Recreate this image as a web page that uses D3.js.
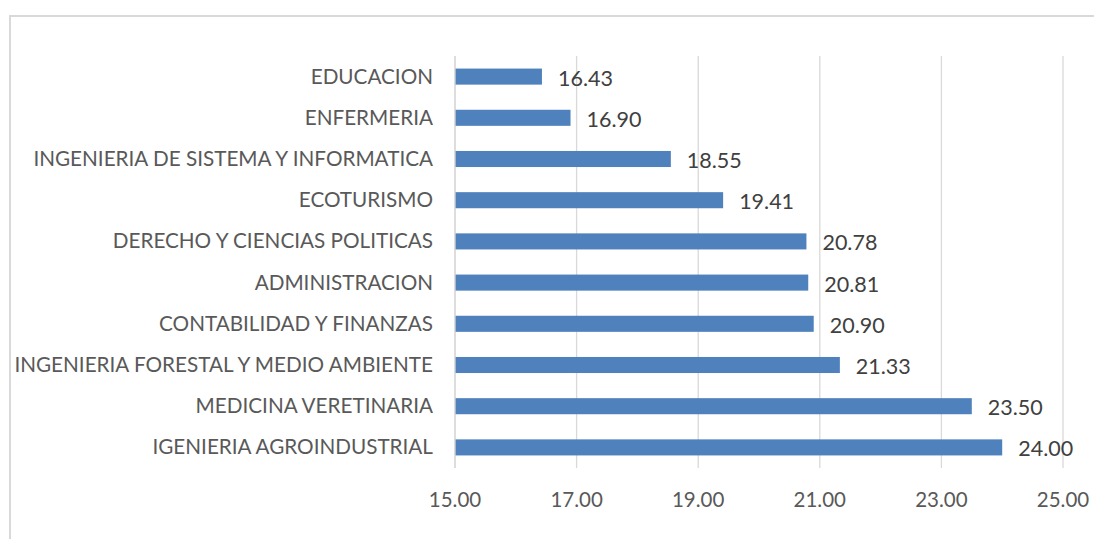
<!DOCTYPE html>
<html>
<head>
<meta charset="utf-8">
<script src="https://cdn.jsdelivr.net/npm/d3@7"></script>
<style>
  body { margin: 0; background: #fff; }
  svg { display: block; font-family: Lato, "Open Sans", sans-serif; }
</style>
</head>
<body>
<div id="chart"></div>
<script>
const categories = [
  "EDUCACION",
  "ENFERMERIA",
  "INGENIERIA DE SISTEMA Y INFORMATICA",
  "ECOTURISMO",
  "DERECHO Y CIENCIAS POLITICAS",
  "ADMINISTRACION",
  "CONTABILIDAD Y FINANZAS",
  "INGENIERIA FORESTAL Y MEDIO AMBIENTE",
  "MEDICINA VERETINARIA",
  "IGENIERIA AGROINDUSTRIAL"
];
const values = [16.43, 16.90, 18.55, 19.41, 20.78, 20.81, 20.90, 21.33, 23.50, 24.00];
const xTicks = [15, 17, 19, 21, 23, 25];

const W = 1094, H = 539;
const margin = { top: 56, right: 31, bottom: 71, left: 455 };
const textColor = "#595959";

const svg = d3.select("#chart").append("svg")
  .attr("width", W)
  .attr("height", H);

// chart border (runs off the right / bottom of the picture)
svg.append("rect")
  .attr("x", 10).attr("y", 16)
  .attr("width", W + 20).attr("height", H + 20)
  .attr("fill", "none")
  .attr("stroke", "#d9d9d9")
  .attr("stroke-width", 2);

const x = d3.scaleLinear()
  .domain([15, 25])
  .range([margin.left, W - margin.right]);

const y = d3.scaleBand()
  .domain(categories)
  .range([margin.top, H - margin.bottom])
  .paddingInner(0.61)
  .paddingOuter(0.305);

// gridlines
svg.append("g")
  .selectAll("line")
  .data(xTicks)
  .join("line")
  .attr("x1", d => x(d)).attr("x2", d => x(d))
  .attr("y1", margin.top).attr("y2", H - margin.bottom)
  .attr("stroke", "#d9d9d9")
  .attr("stroke-width", 1.3);

// x tick labels
svg.append("g")
  .selectAll("text")
  .data(xTicks)
  .join("text")
  .attr("x", d => x(d))
  .attr("y", H - margin.bottom + 39)
  .attr("text-anchor", "middle")
  .attr("font-size", 20.5)
  .attr("fill", textColor)
  .text(d => d.toFixed(2));

// bars
svg.append("g")
  .selectAll("rect")
  .data(values)
  .join("rect")
  .attr("x", x(15))
  .attr("y", (d, i) => y(categories[i]))
  .attr("width", d => x(d) - x(15))
  .attr("height", y.bandwidth())
  .attr("fill", "#4f81bd");

// value labels
svg.append("g")
  .selectAll("text")
  .data(values)
  .join("text")
  .attr("x", d => x(d) + 16)
  .attr("y", (d, i) => y(categories[i]) + y.bandwidth() / 2 + 9)
  .attr("font-size", 21.5)
  .attr("fill", "#404040")
  .text(d => d.toFixed(2));

// category labels
svg.append("g")
  .selectAll("text")
  .data(categories)
  .join("text")
  .attr("x", margin.left - 22)
  .attr("y", d => y(d) + y.bandwidth() / 2 + 7)
  .attr("text-anchor", "end")
  .attr("font-size", 20.7)
  .attr("fill", textColor)
  .text(d => d);

// y axis line
svg.append("line")
  .attr("x1", x(15)).attr("x2", x(15))
  .attr("y1", margin.top).attr("y2", H - margin.bottom)
  .attr("stroke", "#d9d9d9")
  .attr("stroke-width", 1.3);
</script>
</body>
</html>
